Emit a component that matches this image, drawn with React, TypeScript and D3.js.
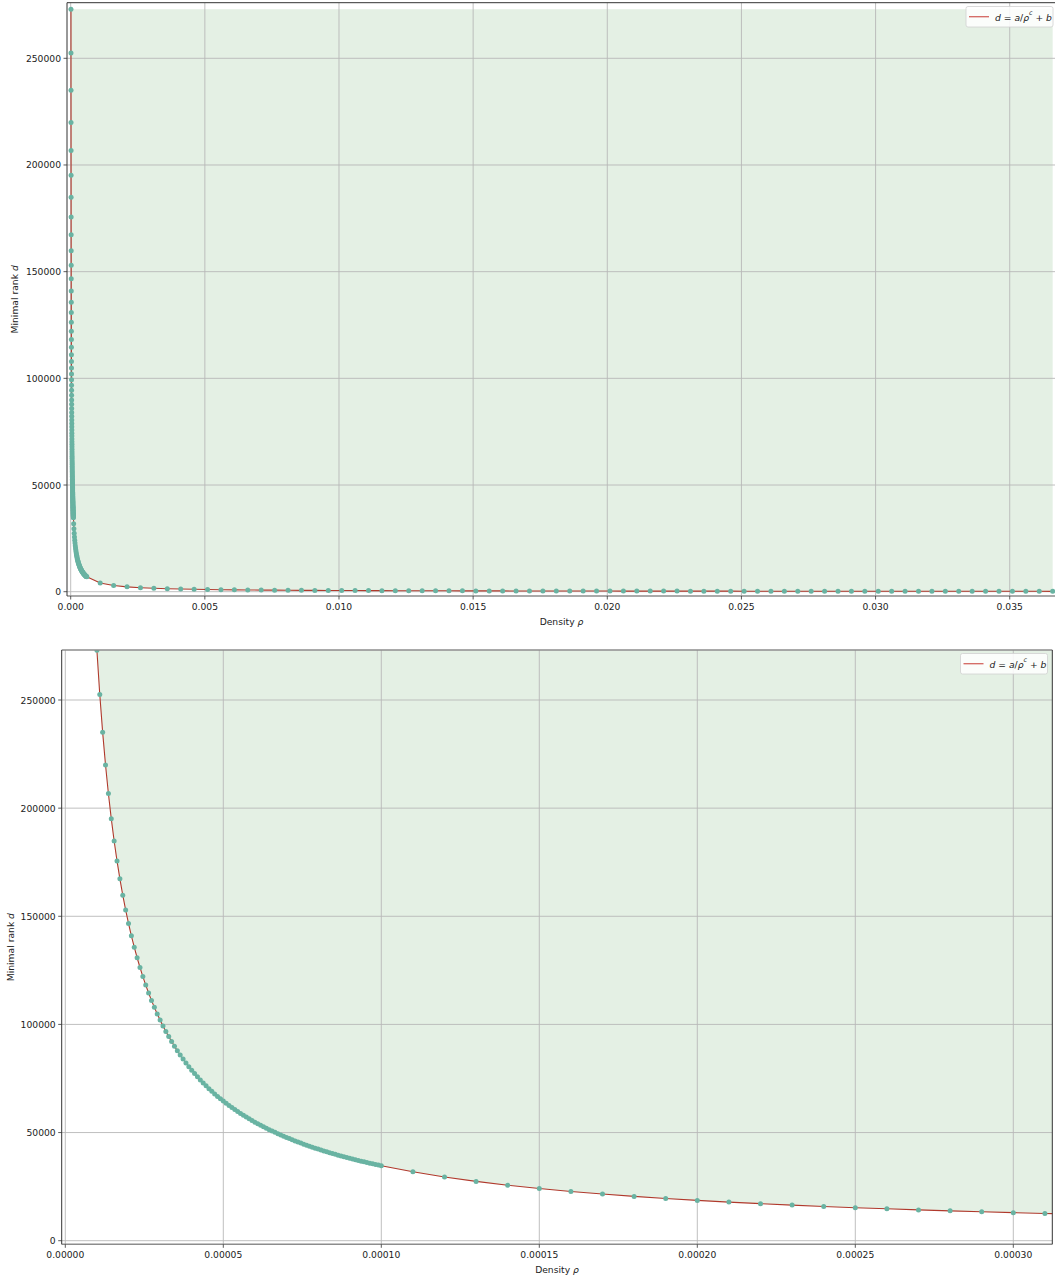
import React from 'react';
import * as d3 from 'd3';

// densities 1e-5 .. 1e-4 (100 evenly spaced) and the ranks
const rhoFine = [
  1.0000e-5, 1.0909e-5, 1.1818e-5, 1.2727e-5, 1.3636e-5, 1.4545e-5, 1.5455e-5, 1.6364e-5, 1.7273e-5, 1.8182e-5, 1.9091e-5,
  2.0000e-5, 2.0909e-5, 2.1818e-5, 2.2727e-5, 2.3636e-5, 2.4545e-5, 2.5455e-5, 2.6364e-5, 2.7273e-5, 2.8182e-5, 2.9091e-5,
  3.0000e-5, 3.0909e-5, 3.1818e-5, 3.2727e-5, 3.3636e-5, 3.4545e-5, 3.5455e-5, 3.6364e-5, 3.7273e-5, 3.8182e-5, 3.9091e-5,
  4.0000e-5, 4.0909e-5, 4.1818e-5, 4.2727e-5, 4.3636e-5, 4.4545e-5, 4.5455e-5, 4.6364e-5, 4.7273e-5, 4.8182e-5, 4.9091e-5,
  5.0000e-5, 5.0909e-5, 5.1818e-5, 5.2727e-5, 5.3636e-5, 5.4545e-5, 5.5455e-5, 5.6364e-5, 5.7273e-5, 5.8182e-5, 5.9091e-5,
  6.0000e-5, 6.0909e-5, 6.1818e-5, 6.2727e-5, 6.3636e-5, 6.4545e-5, 6.5455e-5, 6.6364e-5, 6.7273e-5, 6.8182e-5, 6.9091e-5,
  7.0000e-5, 7.0909e-5, 7.1818e-5, 7.2727e-5, 7.3636e-5, 7.4545e-5, 7.5455e-5, 7.6364e-5, 7.7273e-5, 7.8182e-5, 7.9091e-5,
  8.0000e-5, 8.0909e-5, 8.1818e-5, 8.2727e-5, 8.3636e-5, 8.4545e-5, 8.5455e-5, 8.6364e-5, 8.7273e-5, 8.8182e-5, 8.9091e-5,
  9.0000e-5, 9.0909e-5, 9.1818e-5, 9.2727e-5, 9.3636e-5, 9.4545e-5, 9.5455e-5, 9.6364e-5, 9.7273e-5, 9.8182e-5, 9.9091e-5,
  1.0000e-4,
];
const rankFine = [
  273000, 252530, 235050, 219960, 206770, 195150, 184830, 175590, 167300, 159780,
  152950, 146710, 140970, 135700, 130830, 126310, 122120, 118200, 114540, 111110,
  107890, 104860, 102010, 99320, 96770, 94360, 92080, 89900, 87830, 85870,
  83990, 82190, 80480, 78830, 77270, 75760, 74310, 72920, 71590, 70310,
  69060, 67880, 66720, 65620, 64540, 63520, 62520, 61550, 60610, 59710,
  58830, 57980, 57160, 56350, 55580, 54820, 54090, 53370, 52680, 52010,
  51340, 50710, 50090, 49480, 48890, 48320, 47750, 47200, 46660, 46140,
  45630, 45140, 44650, 44170, 43700, 43240, 42800, 42360, 41930, 41520,
  41110, 40710, 40320, 39930, 39560, 39190, 38830, 38470, 38120, 37780,
  37450, 37120, 36790, 36480, 36160, 35860, 35560, 35260, 34970, 34690,
];

// densities 1.1e-4 .. 6e-4 (step 1e-5)
const rhoMid = [
  1.1e-4, 1.2e-4, 1.3e-4, 1.4e-4, 1.5e-4, 1.6e-4, 1.7e-4, 1.8e-4, 1.9e-4, 2.0e-4,
  2.1e-4, 2.2e-4, 2.3e-4, 2.4e-4, 2.5e-4, 2.6e-4, 2.7e-4, 2.8e-4, 2.9e-4, 3.0e-4,
  3.1e-4, 3.2e-4, 3.3e-4, 3.4e-4, 3.5e-4, 3.6e-4, 3.7e-4, 3.8e-4, 3.9e-4, 4.0e-4,
  4.1e-4, 4.2e-4, 4.3e-4, 4.4e-4, 4.5e-4, 4.6e-4, 4.7e-4, 4.8e-4, 4.9e-4, 5.0e-4,
  5.1e-4, 5.2e-4, 5.3e-4, 5.4e-4, 5.5e-4, 5.6e-4, 5.7e-4, 5.8e-4, 5.9e-4, 6.0e-4,
];
const rankMid = [
  31850, 29460, 27420, 25660, 24120, 22770, 21560, 20490, 19520, 18640,
  17840, 17120, 16450, 15830, 15260, 14740, 14250, 13790, 13360, 12960,
  12590, 12230, 11900, 11590, 11290, 11010, 10740, 10490, 10250, 10020,
  9800, 9590, 9390, 9200, 9010, 8840, 8670, 8510, 8350, 8200,
  8060, 7920, 7780, 7660, 7530, 7410, 7290, 7180, 7070, 6970,
];

// densities 0.0011 .. 0.0366 (step 0.0005)
const rhoCoarse = [
  0.0011, 0.0016, 0.0021, 0.0026, 0.0031, 0.0036, 0.0041, 0.0046, 0.0051, 0.0056,
  0.0061, 0.0066, 0.0071, 0.0076, 0.0081, 0.0086, 0.0091, 0.0096, 0.0101, 0.0106,
  0.0111, 0.0116, 0.0121, 0.0126, 0.0131, 0.0136, 0.0141, 0.0146, 0.0151, 0.0156,
  0.0161, 0.0166, 0.0171, 0.0176, 0.0181, 0.0186, 0.0191, 0.0196, 0.0201, 0.0206,
  0.0211, 0.0216, 0.0221, 0.0226, 0.0231, 0.0236, 0.0241, 0.0246, 0.0251, 0.0256,
  0.0261, 0.0266, 0.0271, 0.0276, 0.0281, 0.0286, 0.0291, 0.0296, 0.0301, 0.0306,
  0.0311, 0.0316, 0.0321, 0.0326, 0.0331, 0.0336, 0.0341, 0.0346, 0.0351, 0.0356,
  0.0361, 0.0366,
];
const rankCoarse = [
  4047, 2893, 2267, 1873, 1600, 1399, 1245, 1123, 1024, 942,
  872, 813, 761, 716, 676, 641, 609, 581, 555, 532,
  510, 490, 472, 455, 440, 425, 412, 399, 387, 376,
  366, 356, 346, 338, 329, 321, 314, 306, 300, 293,
  287, 281, 275, 270, 265, 260, 255, 250, 246, 241,
  237, 233, 229, 226, 222, 218, 215, 212, 209, 206,
  203, 200, 197, 194, 192, 189, 187, 184, 182, 180,
  177, 175,
];

const yTicks = [0, 50000, 100000, 150000, 200000, 250000];
const topXTicks = [0, 0.005, 0.01, 0.015, 0.02, 0.025, 0.03, 0.035];
const bottomXTicks = [0, 0.00005, 0.0001, 0.00015, 0.0002, 0.00025, 0.0003];

type Pt = { rho: number; rank: number };

const zip = (xs: number[], ys: number[]): Pt[] =>
  xs.slice(0, Math.min(xs.length, ys.length)).map((rho, i) => ({ rho, rank: ys[i] }));

const points: Pt[] = [
  ...zip(rhoFine, rankFine),
  ...zip(rhoMid, rankMid),
  ...zip(rhoCoarse, rankCoarse),
];

const FONT = 'DejaVu Sans, sans-serif';
const FS = 9.2;
const POINT = '#69b3a2';
const LINE = '#b0392c';
const FILL = '#e4f0e4';
const GRID = '#b8b8b8';

type PanelProps = {
  id: string;
  box: { left: number; top: number; right: number; bottom: number };
  xDomain: [number, number];
  yDomain: [number, number];
  xTicks: number[];
  xDigits: number;
  yLabelX: number;
  legend: { x: number; y: number; w: number; h: number };
  topSpineDark: boolean;
};

const Panel = ({ id, box, xDomain, yDomain, xTicks, xDigits, yLabelX, legend, topSpineDark }: PanelProps) => {
  const x = d3.scaleLinear().domain(xDomain).range([box.left, box.right]);
  const y = d3.scaleLinear().domain(yDomain).range([box.bottom, box.top]);
  const fillTop = d3.max(points, (d) => d.rank) as number;

  const area = d3
    .area<Pt>()
    .x((d) => x(d.rho))
    .y0(y(fillTop))
    .y1((d) => y(d.rank));
  const line = d3
    .line<Pt>()
    .x((d) => x(d.rho))
    .y((d) => y(d.rank));

  const fmt = d3.format(`.${xDigits}f`);
  const midX = (box.left + box.right) / 2;
  const midY = (box.top + box.bottom) / 2;

  return (
    <g fontFamily={FONT} fontSize={FS} fill="#222">
      <defs>
        <clipPath id={`clip-${id}`}>
          <rect x={box.left} y={box.top} width={box.right - box.left} height={box.bottom - box.top} />
        </clipPath>
      </defs>

      <g clipPath={`url(#clip-${id})`}>
        <path d={area(points) ?? ''} fill={FILL} stroke="none" />
        {/* grid */}
        {xTicks.map((t) => (
          <line key={`gx${t}`} x1={x(t)} x2={x(t)} y1={box.top} y2={box.bottom} stroke={GRID} strokeWidth={0.9} />
        ))}
        {yTicks.map((t) => (
          <line key={`gy${t}`} x1={box.left} x2={box.right} y1={y(t)} y2={y(t)} stroke={GRID} strokeWidth={0.9} />
        ))}
        <path d={line(points) ?? ''} fill="none" stroke={LINE} strokeWidth={1.1} />
        {points.map((d, i) => (
          <circle key={i} cx={x(d.rho)} cy={y(d.rank)} r={2.5} fill={POINT} />
        ))}
      </g>

      {/* spines */}
      <line x1={box.left} x2={box.right} y1={box.bottom} y2={box.bottom} stroke="#8c8c8c" strokeWidth={1.6} />
      <line
        x1={box.left}
        x2={box.right}
        y1={box.top}
        y2={box.top}
        stroke={topSpineDark ? '#333' : '#8c8c8c'}
        strokeWidth={topSpineDark ? 1 : 1.6}
      />
      <line x1={box.left} x2={box.left} y1={box.top} y2={box.bottom} stroke="#333" strokeWidth={1} />
      <line x1={box.right} x2={box.right} y1={box.top} y2={box.bottom} stroke="#333" strokeWidth={1} />

      {/* x ticks */}
      {xTicks.map((t) => (
        <g key={`tx${t}`}>
          <line x1={x(t)} x2={x(t)} y1={box.bottom} y2={box.bottom + 3.5} stroke="#333" strokeWidth={0.8} />
          <text x={x(t)} y={box.bottom + 10} textAnchor="middle" dominantBaseline="central">
            {fmt(t)}
          </text>
        </g>
      ))}
      {/* y ticks */}
      {yTicks.map((t) => (
        <g key={`ty${t}`}>
          <line x1={box.left - 3.5} x2={box.left} y1={y(t)} y2={y(t)} stroke="#333" strokeWidth={0.8} />
          <text x={box.left - 6} y={y(t)} textAnchor="end" dominantBaseline="central">
            {t}
          </text>
        </g>
      ))}

      {/* axis labels */}
      <text x={midX} y={box.bottom + 25} textAnchor="middle" dominantBaseline="central">
        Density <tspan fontStyle="italic">ρ</tspan>
      </text>
      <text
        transform={`translate(${yLabelX},${midY}) rotate(-90)`}
        textAnchor="middle"
        dominantBaseline="central"
      >
        Minimal rank <tspan fontStyle="italic">d</tspan>
      </text>

      {/* legend */}
      <g transform={`translate(${legend.x},${legend.y})`}>
        <rect width={legend.w} height={legend.h} rx={2} fill="#fff" fillOpacity={0.85} stroke="#d0d0d0" strokeWidth={0.8} />
        <line x1={3} x2={23} y1={legend.h / 2} y2={legend.h / 2} stroke="#cc4a44" strokeWidth={1.1} />
        <text x={29} y={legend.h / 2} dominantBaseline="central" fontSize={FS}>
          <tspan fontStyle="italic">d</tspan>
          <tspan> = </tspan>
          <tspan fontStyle="italic">a</tspan>
          <tspan>/</tspan>
          <tspan fontStyle="italic">ρ</tspan>
          <tspan fontStyle="italic" fontSize={6.4} dy={-3.6}>c</tspan>
          <tspan dy={3.6}> + </tspan>
          <tspan fontStyle="italic">b</tspan>
        </text>
      </g>
    </g>
  );
};

export default function App() {
  return (
    <svg
      width={1055}
      height={1280}
      viewBox="0 0 1055 1280"
      style={{ position: 'absolute', left: 0, top: 0, background: '#fff' }}
    >
      <rect width={1055} height={1280} fill="#fff" />
      <Panel
        id="top"
        box={{ left: 67, top: 2.7, right: 1056, bottom: 596 }}
        xDomain={[-0.000138, 0.036725]}
        yDomain={[-2015, 276060]}
        xTicks={topXTicks}
        xDigits={3}
        yLabelX={14}
        legend={{ x: 966, y: 6.5, w: 87, h: 20.5 }}
        topSpineDark={true}
      />
      <Panel
        id="bottom"
        box={{ left: 61.7, top: 650, right: 1052.3, bottom: 1244.3 }}
        xDomain={[-1.14e-6, 3.1234e-4]}
        yDomain={[-1665, 273120]}
        xTicks={bottomXTicks}
        xDigits={5}
        yLabelX={10}
        legend={{ x: 960.5, y: 653.5, w: 87, h: 20.5 }}
        topSpineDark={false}
      />
    </svg>
  );
}
